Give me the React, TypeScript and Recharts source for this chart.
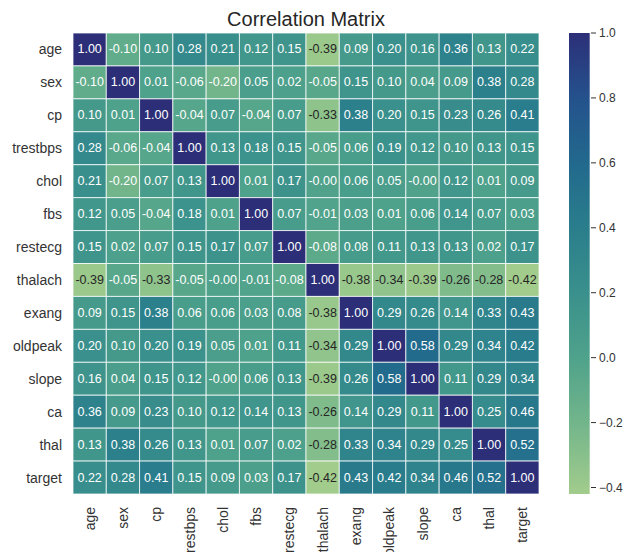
import React from 'react';
import { ScatterChart, Scatter, XAxis, YAxis, BarChart, Bar } from 'recharts';

const labels = ['age', 'sex', 'cp', 'trestbps', 'chol', 'fbs', 'restecg', 'thalach', 'exang', 'oldpeak', 'slope', 'ca', 'thal', 'target'];

const age = [1.0, -0.1, 0.1, 0.28, 0.21, 0.12, 0.15, -0.39, 0.09, 0.2, 0.16, 0.36, 0.13, 0.22];
const sex = [-0.1, 1.0, 0.01, -0.06, -0.2, 0.05, 0.02, -0.05, 0.15, 0.1, 0.04, 0.09, 0.38, 0.28];
const cp = [0.1, 0.01, 1.0, -0.04, 0.07, -0.04, 0.07, -0.33, 0.38, 0.2, 0.15, 0.23, 0.26, 0.41];
const trestbps = [0.28, -0.06, -0.04, 1.0, 0.13, 0.18, 0.15, -0.05, 0.06, 0.19, 0.12, 0.1, 0.13, 0.15];
const chol = [0.21, -0.2, 0.07, 0.13, 1.0, 0.01, 0.17, -0.004, 0.06, 0.05, -0.004, 0.12, 0.01, 0.09];
const fbs = [0.12, 0.05, -0.04, 0.18, 0.01, 1.0, 0.07, -0.01, 0.03, 0.01, 0.06, 0.14, 0.07, 0.03];
const restecg = [0.15, 0.02, 0.07, 0.15, 0.17, 0.07, 1.0, -0.08, 0.08, 0.11, 0.13, 0.13, 0.02, 0.17];
const thalach = [-0.39, -0.05, -0.33, -0.05, -0.004, -0.01, -0.08, 1.0, -0.38, -0.34, -0.39, -0.26, -0.28, -0.42];
const exang = [0.09, 0.15, 0.38, 0.06, 0.06, 0.03, 0.08, -0.38, 1.0, 0.29, 0.26, 0.14, 0.33, 0.43];
const oldpeak = [0.2, 0.1, 0.2, 0.19, 0.05, 0.01, 0.11, -0.34, 0.29, 1.0, 0.58, 0.29, 0.34, 0.42];
const slope = [0.16, 0.04, 0.15, 0.12, -0.004, 0.06, 0.13, -0.39, 0.26, 0.58, 1.0, 0.11, 0.29, 0.34];
const ca = [0.36, 0.09, 0.23, 0.1, 0.12, 0.14, 0.13, -0.26, 0.14, 0.29, 0.11, 1.0, 0.25, 0.46];
const thal = [0.13, 0.38, 0.26, 0.13, 0.01, 0.07, 0.02, -0.28, 0.33, 0.34, 0.29, 0.25, 1.0, 0.52];
const target = [0.22, 0.28, 0.41, 0.15, 0.09, 0.03, 0.17, -0.42, 0.43, 0.42, 0.34, 0.46, 0.52, 1.0];

const rows = [age, sex, cp, trestbps, chol, fbs, restecg, thalach, exang, oldpeak, slope, ca, thal, target];

const colorbarTicks = [-0.4, -0.2, 0, 0.2, 0.4, 0.6, 0.8, 1.0];

const VMIN = -0.42;
const VMAX = 1.0;
const FONT = '"Liberation Sans", Arial, sans-serif';

// crest-like colormap, light -> dark
const STOPS: [number, string][] = [
  [0, '#a2cc8c'],
  [0.155, '#72b58b'],
  [0.296, '#4fa28b'],
  [0.437, '#3a908c'],
  [0.577, '#2a7e8c'],
  [0.718, '#22698d'],
  [0.859, '#24528c'],
  [1, '#2c2f78'],
];

function hexToRgb(h: string) {
  const n = parseInt(h.slice(1), 16);
  return [(n >> 16) & 255, (n >> 8) & 255, n & 255];
}

function colorFor(v: number) {
  const t = Math.max(0, Math.min(1, (v - VMIN) / (VMAX - VMIN)));
  for (let i = 1; i < STOPS.length; i++) {
    if (t <= STOPS[i][0]) {
      const [t0, c0] = STOPS[i - 1];
      const [t1, c1] = STOPS[i];
      const f = (t - t0) / (t1 - t0);
      const a = hexToRgb(c0);
      const b = hexToRgb(c1);
      const c = a.map((x, k) => Math.round(x + (b[k] - x) * f));
      return `rgb(${c[0]},${c[1]},${c[2]})`;
    }
  }
  return STOPS[STOPS.length - 1][1];
}

const N = labels.length;
const CHART_W = 540;
const CHART_H = 552;
const M_TOP = 33;
const M_RIGHT = 1;
const Y_W = 73;
const X_H = 58;
const CELL_W = (CHART_W - M_RIGHT - Y_W) / N;
const CELL_H = (CHART_H - M_TOP - X_H) / N;

const cells = rows.flatMap((row, i) => row.map((v, j) => ({ x: j + 0.5, y: i + 0.5, v })));
const ticks = labels.map((_, i) => i + 0.5);

const HeatCell = (props: any) => {
  const { cx, cy, payload } = props;
  const v: number = payload.v;
  return (
    <g>
      <rect
        x={cx - CELL_W / 2}
        y={cy - CELL_H / 2}
        width={CELL_W}
        height={CELL_H}
        fill={colorFor(v)}
        stroke="rgba(255,255,255,0.75)"
        strokeWidth={1}
      />
      <text
        x={cx}
        y={cy}
        textAnchor="middle"
        dominantBaseline="central"
        fontSize={12.5}
        fontFamily={FONT}
        fill={v < -0.22 ? '#262626' : '#ffffff'}
      >
        {v.toFixed(2)}
      </text>
    </g>
  );
};

const XTick = (props: any) => {
  const { x, y, payload } = props;
  return (
    <text
      x={x}
      y={y}
      transform={`rotate(-90 ${x} ${y})`}
      textAnchor="end"
      dominantBaseline="central"
      fontSize={14}
      fontFamily={FONT}
      fill="#333"
    >
      {labels[Math.floor(payload.value)]}
    </text>
  );
};

const colorbarData = [{ name: 'cb', range: [VMIN, VMAX] }];

export default function App() {
  return (
    <div style={{ position: 'absolute', left: 0, top: 0, width: 630, height: 552, background: '#fff' }}>
      <div
        style={{
          position: 'absolute',
          left: 73,
          width: 466,
          top: 9,
          textAlign: 'center',
          fontFamily: FONT,
          fontSize: 20,
          lineHeight: '20px',
          color: '#262626',
        }}
      >
        Correlation Matrix
      </div>
      <div style={{ position: 'absolute', left: 0, top: 0 }}>
        <ScatterChart width={CHART_W} height={CHART_H} margin={{ top: M_TOP, right: M_RIGHT, bottom: 0, left: 0 }}>
          <XAxis
            type="number"
            dataKey="x"
            domain={[0, N]}
            ticks={ticks}
            interval={0}
            height={X_H}
            axisLine={false}
            tickLine={false}
            tickSize={11}
            tickMargin={2}
            tick={<XTick />}
          />
          <YAxis
            type="number"
            dataKey="y"
            domain={[0, N]}
            reversed
            ticks={ticks}
            interval={0}
            width={Y_W}
            axisLine={false}
            tickLine={false}
            tickSize={9}
            tickMargin={2}
            tickFormatter={(v: number) => labels[Math.floor(v)]}
            tick={{ fontSize: 14, fontFamily: FONT, fill: '#333' }}
          />
          <Scatter data={cells} shape={<HeatCell />} isAnimationActive={false} />
        </ScatterChart>
      </div>
      <div style={{ position: 'absolute', left: 540, top: 0 }}>
        <BarChart
          width={90}
          height={552}
          data={colorbarData}
          margin={{ top: M_TOP, right: 0, bottom: X_H, left: 28 }}
          barCategoryGap={0}
        >
          <defs>
            <linearGradient id="cbGrad" x1="0" y1="0" x2="0" y2="1">
              {STOPS.map(([t, c]) => (
                <stop key={t} offset={1 - t} stopColor={c} />
              )).reverse()}
            </linearGradient>
          </defs>
          <XAxis dataKey="name" hide />
          <YAxis
            orientation="right"
            type="number"
            domain={[VMIN, VMAX]}
            allowDataOverflow
            ticks={colorbarTicks}
            width={39}
            axisLine={false}
            tickLine={{ stroke: '#333' }}
            tickSize={5}
            tickMargin={3}
            tickFormatter={(v: number) => v.toFixed(1).replace('-', '\u2212')}
            tick={{ fontSize: 12, fontFamily: FONT, fill: '#333', textAnchor: 'start' }}
          />
          <Bar dataKey="range" fill="url(#cbGrad)" barSize={23} isAnimationActive={false} />
        </BarChart>
      </div>
    </div>
  );
}
